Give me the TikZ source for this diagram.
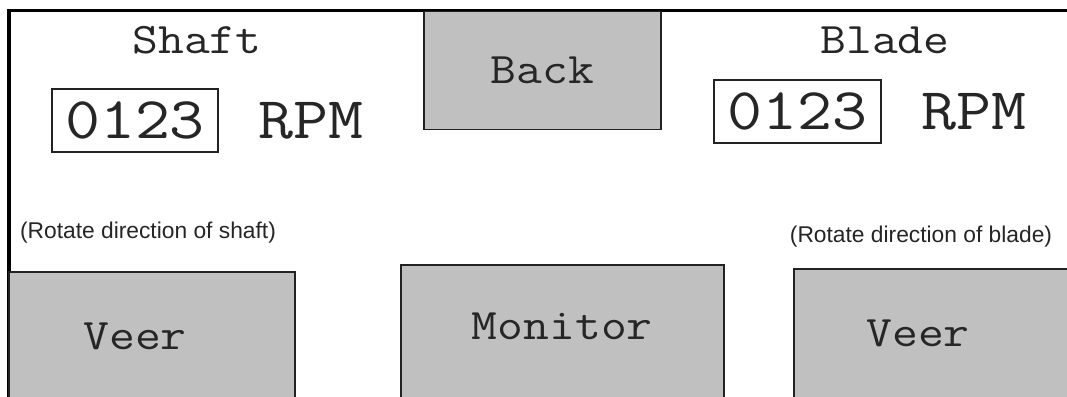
\documentclass[tikz,border=0pt]{standalone}
\usepackage{fontspec}
\usepackage{graphicx}
\newfontfamily\notefont{Liberation Sans}
\usetikzlibrary{positioning}

\definecolor{btngray}{HTML}{C0C0C0}
\definecolor{edgegray}{HTML}{222222}

% courier-like text, a bit wider than LM Mono
\newcommand{\wide}[1]{\scalebox{1.15}[1]{#1}}

\tikzset{
  frame/.style={line width=2.2pt, line cap=rect},
  button/.style={draw=edgegray, line width=1.1pt, fill=btngray, anchor=north west, inner sep=0pt},
  caption/.style={inner sep=0pt, text=black!85, font=\ttfamily\fontsize{31}{31}\selectfont},
  bigtext/.style={inner sep=0pt, text=black!85, font=\ttfamily\fontsize{42}{42}\selectfont},
  readout/.style={bigtext, draw=edgegray, line width=1.1pt, fill=white, minimum width=4.15cm, minimum height=1.58cm},
  note/.style={inner sep=0pt, text=black!85, font=\notefont\fontsize{16.2}{17}\selectfont}
}

\begin{document}
\begin{tikzpicture}[x=0.025cm, y=-0.025cm]
  \clip (0,0) rectangle (1067,396);
  \fill[white] (0,0) rectangle (1067,396);

  % screen border
  \draw[frame] (9,410) |- (1080,10.5);

  % top row
  \node[button, minimum width=5.925cm, minimum height=2.95cm] (back) at (423,10.5) {};
  \node[caption] (backtxt) at (back.center) {\wide{Back}};

  \node[caption] (shaft) at (197,40) {\wide{Shaft}};
  \node[readout] (shaftval) at (135,120.5) {\wide{0123}};
  \node[bigtext, right=0.98cm of shaftval] (shaftrpm) {\wide{RPM}};

  \node[caption] (blade) at (885,40) {\wide{Blade}};
  \node[readout, minimum width=4.175cm] (bladeval) at (797.5,111.5) {\wide{0123}};
  \node[bigtext, right=0.98cm of bladeval] (bladerpm) {\wide{RPM}};

  % bottom row
  \node[note] (shaftnote) at (148,233) {(Rotate direction of shaft)};
  \node[note] (bladenote) at (921,237) {(Rotate direction of blade)};

  \node[button, minimum width=7.15cm, minimum height=3.6cm] (veerleft) at (8,271) {};
  \node[caption] (veerlefttxt) at (135,336) {\wide{Veer}};

  \node[button, minimum width=8.075cm, minimum height=3.8cm] (monitor) at (400,264) {};
  \node[caption] (monitortxt) at ([yshift=-1.55cm]monitor.north) {\wide{Monitor}};

  \node[button, minimum width=7.5cm, minimum height=3.6cm] (veerright) at (793,268) {};
  \node[caption] (veerrighttxt) at (918,333) {\wide{Veer}};
\end{tikzpicture}
\end{document}
